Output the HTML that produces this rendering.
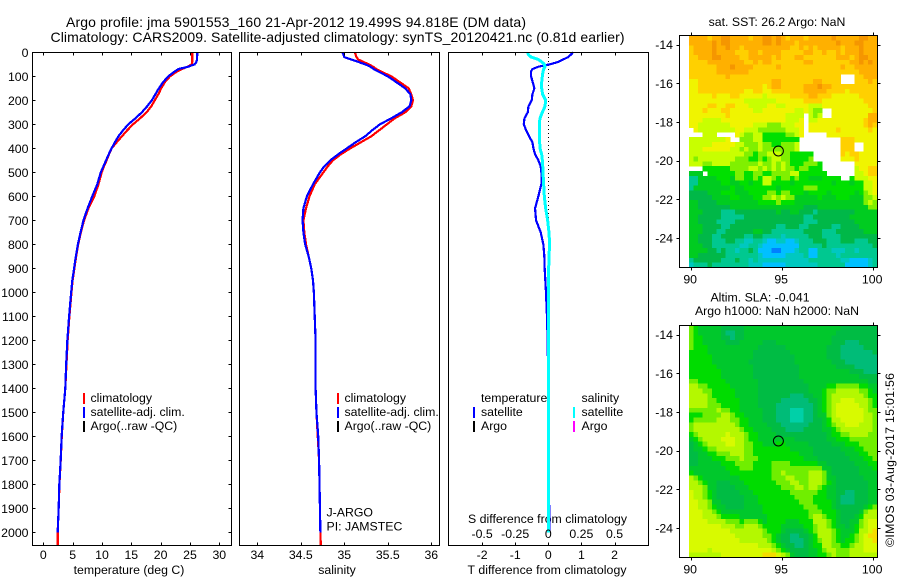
<!DOCTYPE html>
<html>
<head>
<meta charset="utf-8">
<title>Argo profile</title>
<style>
html,body{margin:0;padding:0;background:#fff;}
svg{display:block;}
text{font-family:"Liberation Sans",sans-serif;font-size:12.3px;fill:#000;}
</style>
</head>
<body>
<svg id="chart" width="900" height="580" viewBox="0 0 900 580" xmlns="http://www.w3.org/2000/svg">
  <rect x="0" y="0" width="900" height="580" fill="#fff"/>
  <text x="66" y="27" style="font-size:14px" textLength="460">Argo profile: jma 5901553_160 21-Apr-2012 19.499S 94.818E (DM data)</text>
  <text x="50.5" y="42" style="font-size:14px" textLength="574">Climatology: CARS2009. Satellite-adjusted climatology: synTS_20120421.nc (0.81d earlier)</text>
  <text x="129" y="574" text-anchor="middle">temperature (deg C)</text>
  <text x="337" y="574" text-anchor="middle">salinity</text>
  <text x="547" y="574" text-anchor="middle" textLength="159">T difference from climatology</text>
  <text x="547.5" y="523" text-anchor="middle" textLength="159">S difference from climatology</text>

  <g>
    <rect x="83" y="393" width="2" height="11" fill="#f00"/>
    <text x="90.5" y="402">climatology</text>
    <rect x="83" y="407" width="2" height="11" fill="#00f"/>
    <text x="90.5" y="416">satellite-adj. clim.</text>
    <rect x="83" y="421" width="2" height="11" fill="#000"/>
    <text x="90.5" y="430">Argo(..raw -QC)</text>
  </g>
  <g>
    <rect x="337" y="393" width="2" height="11" fill="#f00"/>
    <text x="344.5" y="402">climatology</text>
    <rect x="337" y="407" width="2" height="11" fill="#00f"/>
    <text x="344.5" y="416">satellite-adj. clim.</text>
    <rect x="337" y="421" width="2" height="11" fill="#000"/>
    <text x="344.5" y="430">Argo(..raw -QC)</text>
  </g>
  <text x="326.5" y="516.5">J-ARGO</text>
  <text x="326.5" y="530.5">PI: JAMSTEC</text>
  <g>
    <text x="481" y="402">temperature</text>
    <rect x="473" y="407" width="2" height="11" fill="#00f"/>
    <text x="481" y="416">satellite</text>
    <rect x="473" y="421" width="2" height="11" fill="#000"/>
    <text x="481" y="430">Argo</text>
    <text x="581.5" y="402">salinity</text>
    <rect x="573" y="407" width="2" height="11" fill="#0ff"/>
    <text x="581.5" y="416">satellite</text>
    <rect x="573" y="421" width="2" height="11" fill="#f0f"/>
    <text x="581.5" y="430">Argo</text>
  </g>
  <text x="777" y="26" text-anchor="middle">sat. SST: 26.2 Argo: NaN</text>
  <text x="760" y="301.5" text-anchor="middle">Altim. SLA: -0.041</text>
  <text x="777" y="315" text-anchor="middle">Argo h1000: NaN h2000: NaN</text>
  <text transform="translate(894,547) rotate(-90)" textLength="174">©IMOS 03-Aug-2017 15:01:56</text>
</svg>
<script>
const _ = null;
const depths = [0,10,20,30,40,50,60,70,80,100,125,150,175,200,225,250,275,300,325,350,375,400,425,450,475,500,550,600,650,700,750,800,850,900,950,1000,1100,1200,1300,1400,1500,1600,1700,1800,1900,2000,2054];
const tempClim = [25.4,25.4,25.4,25.4,25.4,25.3,24.6,23.6,22.8,21.6,20.7,20.1,19.6,19.0,18.4,17.6,16.5,15.3,14.3,13.4,12.5,11.65,11.2,10.8,10.35,9.95,9.4,8.7,7.7,6.95,6.4,5.95,5.6,5.3,5.0,4.8,4.45,4.15,3.95,3.75,3.4,3.15,2.97,2.75,2.62,2.45,2.45];
const tempSat = [26.25,26.25,26.2,26.2,26.1,25.8,24.7,23.0,22.4,21.3,20.4,19.7,19.1,18.5,17.7,16.8,15.7,14.5,13.6,12.8,12.2,11.65,11.15,10.7,10.25,9.8,9.2,8.35,7.55,6.85,6.35,5.9,5.55,5.25,4.95,4.75,4.4,4.1,3.9,3.75,3.4,3.13,2.96,2.73,2.62,2.45,_];
const salClim = [35.12,35.13,35.14,35.16,35.22,35.28,35.33,35.37,35.42,35.54,35.64,35.74,35.77,35.79,35.77,35.70,35.58,35.49,35.40,35.31,35.19,35.07,34.96,34.87,34.81,34.76,34.66,34.6,34.56,34.53,34.54,34.56,34.59,34.62,34.64,34.65,34.66,34.67,34.67,34.67,34.68,34.695,34.71,34.715,34.72,34.725,34.73];
const salSat = [34.98,34.99,35.0,35.08,35.16,35.24,35.3,35.34,35.39,35.5,35.6,35.7,35.76,35.77,35.75,35.66,35.54,35.41,35.32,35.24,35.13,35.03,34.93,34.84,34.77,34.72,34.64,34.57,34.53,34.52,34.53,34.55,34.59,34.62,34.64,34.65,34.66,34.67,34.67,34.67,34.68,34.70,34.71,34.715,34.72,34.725,_];
const tempDiff = [0.75,0.68,0.6,0.45,0.3,0.05,-0.3,-0.48,-0.52,-0.52,-0.47,-0.42,-0.48,-0.5,-0.6,-0.62,-0.72,-0.74,-0.67,-0.58,-0.48,-0.45,-0.4,-0.3,-0.23,-0.21,-0.21,-0.3,-0.4,-0.37,-0.23,-0.15,-0.12,-0.11,-0.09,-0.07,-0.04,-0.02,-0.01,0,0,0,0,0,0.03,0.03,_];
const salDiff = [-0.156,-0.15,-0.13,-0.075,-0.05,-0.03,-0.025,-0.035,-0.04,-0.045,-0.05,-0.05,-0.043,-0.02,-0.025,-0.045,-0.063,-0.068,-0.068,-0.068,-0.065,-0.063,-0.05,-0.045,-0.042,-0.04,-0.035,-0.03,-0.02,-0.005,0.005,0.01,0.005,0.003,0.002,0,0,0,0,0,0,0,0,0,0,0,_];
const depthTicks = [0,100,200,300,400,500,600,700,800,900,1000,1100,1200,1300,1400,1500,1600,1700,1800,1900,2000];
const tempTicks = [0,5,10,15,20,25,30];
const salTicks = [34,34.5,35,35.5,36];
const salTickLabels = ['34','34.5','35','35.5','36'];
const tDiffTicks = [-2,-1,0,1,2];
const sDiffTickLabels = ['-0.5','-0.25','0','0.25','0.5'];
const lonTicks = [90,95,100];
const latTicks = [-14,-16,-18,-20,-22,-24];
const profileLon = [94.818];
const profileLat = [-19.499];
const sstCells = [
[11,11,11,11,10,11,11,12,12,11,11,11,11,10,11,11,12,12,11,12,11,10,11,11,11,10,11,11,11,11,11,12,11,11,11,11,11,12,12,11,11],
[11,11,11,11,11,12,11,12,12,11,11,11,11,11,11,11,12,12,11,12,11,11,11,10,11,11,11,11,11,11,11,11,12,11,11,11,12,12,11,11,11],
[10,11,11,11,11,12,11,11,12,11,11,10,11,11,11,11,11,11,11,11,11,11,10,10,11,10,11,10,11,11,11,11,11,10,11,11,11,12,11,11,11],
[10,11,11,11,11,12,11,11,11,11,10,10,10,11,11,10,11,11,11,11,10,10,10,10,10,11,11,10,10,11,10,10,11,10,11,11,11,12,11,11,11],
[10,10,11,11,11,12,12,11,11,11,11,10,10,11,11,11,11,11,10,11,10,10,10,11,11,10,10,10,10,10,10,10,11,11,11,10,11,12,12,11,11],
[10,10,10,10,11,11,11,11,11,11,11,11,10,10,11,10,11,11,10,10,10,10,10,10,10,11,11,10,10,10,10,10,10,10,10,11,11,12,11,12,11],
[10,10,10,10,10,10,11,11,11,12,11,11,11,11,10,10,10,10,10,11,10,10,10,10,10,10,10,10,10,10,10,10,10,11,10,10,11,11,11,11,11],
[10,10,10,10,10,10,11,11,11,11,11,11,11,10,10,10,10,10,10,10,10,10,10,10,10,10,10,10,10,10,10,10,10,10,10,10,10,11,11,11,11],
[10,10,10,10,10,10,10,10,11,10,10,10,10,10,10,10,10,10,10,10,10,10,10,10,10,10,10,10,10,10,10,10,10,_,_,_,10,10,11,11,11],
[9,9,10,10,10,10,10,10,10,10,10,10,10,10,10,10,10,10,11,11,10,10,10,10,10,10,10,11,11,10,10,10,10,_,_,_,10,10,10,11,10],
[9,9,10,10,10,10,10,10,10,10,10,10,10,10,10,10,9,10,11,11,10,10,10,10,10,11,11,11,12,11,11,10,10,10,10,10,10,10,10,10,10],
[9,9,10,10,10,10,10,10,10,10,10,10,9,9,10,10,9,9,10,10,10,10,10,10,10,11,11,11,11,11,10,10,10,10,9,10,10,10,10,10,10],
[9,9,9,9,9,10,9,9,9,10,10,9,9,9,9,9,8,9,9,9,9,9,10,10,10,10,11,11,10,10,10,9,9,9,9,9,9,10,10,10,10],
[9,9,9,9,9,9,9,9,9,9,9,9,8,8,8,8,8,8,8,9,9,9,9,9,9,10,10,10,10,9,9,9,9,9,9,9,9,9,10,10,10],
[9,9,9,9,10,10,9,9,10,10,9,9,9,8,8,8,8,9,9,8,8,9,9,9,9,9,8,8,8,9,9,9,9,9,9,9,9,9,9,10,10],
[9,9,9,10,9,9,9,10,10,9,9,9,9,9,8,8,9,9,9,9,9,9,9,8,8,9,8,7,7,_,_,9,9,9,9,9,9,9,9,9,10],
[9,9,9,9,9,9,9,9,10,9,9,9,9,9,9,9,9,9,9,9,9,8,8,8,8,_,8,7,8,_,_,9,9,9,9,9,9,9,9,11,11],
[9,9,9,8,8,8,8,9,9,9,9,9,9,9,9,9,9,9,9,9,9,8,8,8,9,_,8,8,9,9,9,9,9,9,9,9,9,9,10,11,11],
[9,9,8,8,8,8,8,8,8,9,9,9,9,9,8,8,8,7,7,7,8,8,8,9,9,_,9,9,9,9,9,9,9,9,9,9,9,9,10,11,10],
[_,9,8,8,8,8,8,8,8,8,9,9,8,8,8,7,7,7,7,7,7,8,8,8,9,_,9,9,9,9,9,9,10,9,9,9,9,9,9,10,9],
[_,_,_,8,8,8,_,_,_,_,9,8,7,7,8,8,6,6,6,6,6,7,7,8,9,_,_,_,_,_,9,9,9,9,9,9,9,9,9,9,9],
[8,8,8,8,8,8,8,8,9,_,_,7,7,7,8,8,6,6,6,6,6,6,6,6,_,_,_,_,_,_,_,_,_,10,10,10,9,9,9,9,9],
[8,8,8,8,8,9,9,9,9,9,8,8,7,7,7,8,7,7,6,6,7,7,7,8,_,_,_,_,_,_,_,_,_,10,10,10,_,_,9,9,9],
[8,8,8,9,9,9,9,9,9,8,8,7,8,7,7,8,7,7,7,7,7,7,7,8,_,_,_,_,_,_,_,_,_,10,10,10,_,_,9,9,9],
[8,8,8,8,8,8,8,8,8,8,8,8,7,7,6,7,7,8,8,8,7,7,6,6,6,6,6,_,_,_,_,_,_,10,9,10,10,9,9,9,9],
[8,7,8,8,8,8,8,8,8,8,7,7,7,6,6,7,6,7,8,8,7,7,6,6,6,6,7,_,_,_,_,_,_,9,9,9,10,9,9,9,9],
[8,8,8,7,7,8,8,8,8,7,7,7,7,7,7,8,7,7,8,7,8,7,6,6,6,7,7,7,6,_,_,_,_,_,_,_,9,9,9,9,9],
[_,_,_,6,6,6,6,6,6,7,7,7,7,8,8,7,8,7,8,7,8,7,7,6,7,7,6,6,6,_,_,_,_,_,_,_,8,9,9,10,10],
[5,5,5,_,6,6,6,6,6,6,7,7,6,6,7,7,6,6,7,7,7,7,8,8,6,6,6,6,6,6,_,_,_,_,_,_,8,8,9,10,10],
[3,3,5,5,5,5,6,6,6,5,7,7,6,6,7,6,8,8,7,6,7,7,6,7,6,6,5,5,5,6,6,6,6,_,_,6,8,8,8,9,9],
[3,3,5,5,5,5,5,6,6,5,5,6,6,5,6,6,8,8,6,6,6,6,5,6,6,6,6,6,6,6,6,5,6,6,6,5,6,6,8,8,9],
[3,5,5,5,5,5,5,5,5,6,5,5,6,6,6,6,6,6,6,5,6,6,6,6,6,7,7,7,6,6,6,6,6,6,6,6,6,6,8,8,9],
[4,4,4,4,5,5,5,6,6,6,5,5,5,6,6,6,6,7,7,6,7,7,6,6,6,5,6,6,6,6,5,6,6,6,6,6,5,6,7,8,9],
[4,4,4,4,4,5,5,5,5,6,6,5,5,5,6,6,7,7,8,7,8,7,7,5,5,5,5,5,6,5,5,5,6,6,6,5,5,5,7,7,8],
[5,5,4,4,4,4,5,5,5,5,5,5,5,5,5,6,6,6,6,7,6,6,6,5,5,5,5,5,5,5,5,5,5,5,5,5,5,5,7,8,7],
[5,5,4,4,4,4,4,4,4,5,5,5,5,5,5,5,5,5,5,5,5,5,5,5,5,4,4,4,5,5,5,5,5,5,5,5,5,5,5,7,7],
[5,5,5,4,4,4,4,3,3,3,4,4,4,4,4,4,4,4,4,5,4,4,5,5,4,4,4,3,4,4,4,4,4,4,4,4,5,5,5,5,5],
[5,5,4,4,4,4,4,3,3,3,3,3,4,4,4,4,4,4,4,4,4,4,4,4,4,3,3,4,4,4,4,4,4,4,4,5,5,5,5,5,5],
[5,5,4,4,4,4,3,3,3,3,4,4,4,4,4,4,4,4,4,4,4,4,4,4,4,3,3,3,4,4,4,4,4,4,4,4,5,5,5,5,5],
[5,5,5,4,4,4,4,3,3,4,4,4,4,4,4,4,4,4,4,3,3,4,4,4,3,3,4,4,4,4,4,3,3,4,4,4,4,5,5,5,5],
[5,5,5,4,4,4,3,3,4,4,4,4,4,4,5,5,4,4,3,3,3,3,3,3,3,4,4,4,4,3,3,3,4,4,4,4,4,4,5,5,5],
[5,5,4,4,4,3,3,4,4,4,4,4,3,3,4,4,3,3,3,3,2,3,3,3,3,3,4,4,4,3,3,3,3,4,4,4,4,4,4,4,4],
[5,5,4,4,4,3,3,3,4,4,3,3,2,2,3,3,2,1,1,2,2,1,1,2,3,3,3,4,4,4,3,3,3,4,4,4,3,3,3,4,4],
[5,5,5,4,4,3,3,3,3,3,3,2,2,3,3,2,1,1,1,1,1,1,1,1,3,3,3,3,3,4,3,3,3,3,3,3,3,3,3,3,4],
[5,5,5,5,4,4,3,4,3,3,2,3,3,4,3,1,1,1,0,0,1,1,1,2,3,3,1,1,3,3,3,2,2,2,3,3,2,3,3,3,3],
[5,5,4,4,4,4,4,4,3,3,3,3,3,3,3,2,1,1,1,1,1,2,2,2,2,3,1,1,3,3,3,3,2,3,3,3,3,3,3,3,3],
[3,4,4,4,4,4,4,3,3,3,4,3,3,2,3,2,2,2,2,2,2,2,2,2,2,2,3,3,3,3,3,3,3,2,2,1,1,1,1,2,3],
[2,3,3,3,4,3,3,3,3,3,3,3,3,2,2,2,1,1,1,1,1,2,2,2,2,2,2,2,3,3,3,3,3,3,1,1,1,1,1,2,3]
];
const slaCells = [
[7,6,5,5,5,5,5,4,4,4,4,4,5,5,5,5,5,5,5,5,5,5,5,5,5,5,5,5,5,5,5,5,5,4,4,4,4,4,4,4,4],
[7,6,5,5,5,5,5,4,3,3,4,4,5,5,5,5,5,5,5,5,5,5,5,5,5,5,5,5,5,5,5,5,4,4,4,4,4,4,4,4,4],
[7,6,6,5,5,5,5,4,4,3,4,4,5,5,5,5,5,5,5,5,5,5,5,5,5,5,5,5,5,5,5,4,4,4,4,4,4,4,4,4,4],
[7,6,6,5,5,5,5,5,4,4,4,5,5,5,5,5,4,4,4,5,5,5,5,5,5,5,5,5,5,5,5,4,4,4,3,3,3,4,4,4,4],
[7,6,6,6,5,5,5,5,5,5,5,5,5,5,5,4,4,4,4,4,4,5,5,5,5,5,5,5,5,5,4,4,4,3,3,3,3,3,4,4,4],
[6,6,6,6,5,5,5,5,5,5,5,5,5,5,4,4,4,4,4,4,4,4,5,5,5,5,5,5,5,5,4,4,4,3,3,3,3,3,3,3,4],
[6,6,6,6,6,5,5,5,5,5,5,5,5,5,4,4,4,4,4,4,4,4,4,5,5,5,5,5,5,5,4,4,4,3,3,3,3,3,3,3,3],
[6,6,6,6,6,5,5,5,5,5,5,5,5,4,4,4,4,4,4,4,4,4,4,5,5,5,5,5,5,5,5,4,4,4,3,3,3,3,3,3,3],
[6,6,6,6,6,6,5,5,5,5,5,5,5,5,4,4,4,4,4,4,4,4,4,4,5,5,5,5,5,5,5,5,4,4,4,4,3,3,3,3,3],
[6,6,6,6,6,6,6,5,5,5,5,5,5,5,4,4,4,4,4,4,4,4,4,4,5,5,5,5,5,5,5,5,5,5,5,4,4,4,3,3,3],
[6,6,6,6,6,6,6,5,5,5,5,5,5,5,4,4,4,4,4,4,4,4,4,4,5,5,5,5,5,5,5,5,5,5,5,5,5,4,4,4,4],
[7,7,6,6,6,6,6,6,5,5,5,5,5,5,5,4,4,4,4,4,4,4,4,4,4,5,5,5,5,5,5,5,5,5,5,5,5,5,5,4,4],
[8,8,7,7,6,6,6,6,6,5,5,5,5,5,5,4,4,4,4,4,4,4,4,4,4,4,5,5,5,5,6,6,7,7,7,7,7,6,6,5,5],
[8,8,8,7,7,6,6,6,6,6,5,5,5,5,5,4,4,4,4,4,4,4,4,4,4,4,5,5,5,6,7,7,8,8,8,8,8,7,7,6,5],
[8,8,8,8,7,6,6,6,6,6,5,5,5,5,5,4,4,4,4,4,4,4,3,3,3,4,4,5,5,6,7,8,8,8,8,8,8,8,7,6,6],
[8,8,8,8,7,7,6,6,6,6,6,5,5,5,5,4,4,4,4,4,3,3,3,3,3,3,4,4,5,6,7,8,8,9,9,9,8,8,8,7,6],
[8,8,8,8,7,7,7,6,6,6,6,5,5,5,5,4,4,4,4,3,3,3,3,3,3,3,3,4,5,6,7,8,9,9,9,9,9,8,8,7,6],
[7,7,7,7,7,7,8,7,7,6,6,5,5,5,5,5,4,4,4,3,3,3,2,2,2,3,3,4,5,6,7,8,9,9,9,9,9,9,8,7,7],
[6,6,6,7,7,7,7,8,8,7,6,6,5,5,5,5,4,4,4,3,3,3,2,2,2,3,3,4,5,5,7,8,9,9,9,9,9,9,8,8,7],
[6,7,7,7,7,7,8,8,8,7,7,6,6,5,5,5,4,4,4,3,3,3,2,2,2,3,3,4,4,5,6,8,8,9,9,9,9,9,8,8,7],
[7,8,8,8,8,8,8,8,8,8,7,6,6,5,5,5,5,4,4,4,3,3,3,3,3,3,4,4,4,5,6,7,8,8,9,9,9,8,8,8,7],
[7,8,8,8,8,8,8,8,8,8,8,7,6,6,5,5,5,5,4,4,4,3,3,3,3,4,4,4,4,5,5,6,7,8,8,8,8,8,8,8,7],
[6,7,8,8,8,8,8,8,9,8,8,8,7,6,6,5,5,5,5,4,4,4,4,4,4,4,4,4,4,4,5,6,6,7,7,8,8,8,8,7,7],
[5,6,7,8,8,8,8,9,9,9,8,8,7,6,6,5,5,5,5,5,5,5,5,4,4,4,4,4,4,4,5,5,6,6,6,7,7,7,7,7,7],
[4,5,6,7,8,8,8,8,9,9,8,8,7,7,6,6,5,5,5,6,6,5,5,5,5,5,4,4,4,4,4,5,5,5,6,6,6,7,7,7,7],
[4,5,5,6,7,7,8,8,8,8,8,8,7,7,6,6,6,6,6,6,6,6,5,5,5,5,5,4,4,4,4,4,4,5,5,5,6,6,7,7,7],
[4,4,5,5,6,6,7,7,7,8,8,8,7,7,6,6,6,6,6,6,6,6,6,6,5,5,5,4,4,4,4,4,4,4,5,5,5,6,6,7,7],
[4,4,5,5,5,6,6,6,7,7,7,8,7,7,7,6,6,6,6,6,6,6,6,6,6,5,5,5,4,4,4,4,4,4,4,5,5,5,6,6,7],
[4,4,5,5,5,5,5,6,6,6,7,7,7,7,6,6,6,6,7,7,7,7,6,6,6,6,6,6,5,5,4,4,4,4,4,4,5,5,5,6,6],
[5,5,5,5,5,5,5,5,6,6,6,7,7,7,6,6,6,6,7,7,7,7,7,7,7,7,7,7,7,5,5,4,4,4,4,4,4,5,5,5,6],
[6,5,5,5,5,5,5,5,5,6,6,6,6,6,6,6,6,6,7,7,8,7,7,7,7,7,8,8,8,7,5,4,4,4,4,4,4,5,5,5,5],
[8,7,6,5,5,5,5,5,5,5,5,6,6,6,6,6,6,6,7,7,7,8,8,7,7,7,8,8,8,7,5,5,4,4,4,4,4,4,5,5,5],
[8,8,7,6,5,5,4,4,4,5,5,5,6,6,6,6,6,6,6,7,7,7,8,8,7,7,8,8,8,7,6,5,4,4,4,4,4,4,4,5,5],
[8,8,8,7,5,5,4,4,4,4,5,5,5,6,6,6,6,6,6,6,7,7,7,8,8,7,8,8,7,6,5,5,4,4,4,4,4,4,4,5,5],
[9,8,8,7,6,5,4,4,4,4,4,5,5,5,6,6,6,6,6,6,6,6,7,7,7,7,7,7,6,6,5,5,4,4,3,3,4,4,4,5,5],
[9,8,8,7,6,5,4,4,4,4,4,4,5,5,5,6,6,6,6,6,6,6,6,7,7,7,7,6,6,6,5,5,4,3,3,3,4,4,4,5,5],
[9,9,8,8,7,5,5,4,4,4,4,4,5,5,5,6,6,6,6,6,6,6,6,6,7,7,7,6,6,6,6,5,4,3,3,3,4,4,4,5,5],
[9,9,8,8,7,6,5,5,4,4,4,4,5,5,5,5,6,6,6,6,6,6,6,6,6,7,7,7,6,6,6,5,4,4,4,4,4,4,5,6,7],
[9,9,9,8,8,7,6,5,5,5,5,5,5,5,5,5,6,6,6,6,6,6,6,6,6,6,7,7,7,6,6,6,5,4,4,4,4,5,7,8,8],
[9,9,9,8,8,8,7,6,6,6,6,5,5,5,5,5,5,6,6,6,6,6,6,6,6,6,7,8,8,7,6,6,5,4,4,4,5,6,8,8,8],
[9,9,9,9,8,8,8,8,7,7,7,6,7,7,7,6,5,6,6,6,6,5,5,5,6,6,6,8,8,8,7,6,5,4,4,5,5,7,8,9,9],
[9,9,9,9,9,9,9,8,8,8,7,7,8,8,8,7,6,6,6,6,5,5,5,5,5,6,6,7,8,8,7,6,5,5,4,5,6,7,8,9,9],
[9,9,9,9,9,9,9,9,9,8,8,8,8,8,8,8,7,6,6,6,5,4,4,4,4,5,6,7,8,8,8,7,6,5,5,5,6,8,8,9,10],
[9,9,9,9,9,9,9,9,9,9,8,8,8,8,8,8,7,7,6,5,4,4,3,3,4,4,5,6,8,8,8,7,6,5,5,6,7,8,9,10,10],
[9,9,9,9,9,9,9,9,9,9,9,8,8,8,8,8,8,7,6,5,4,4,3,3,3,4,5,6,7,8,8,7,6,5,6,6,7,8,9,9,10],
[9,9,9,9,9,9,9,9,9,9,9,9,9,9,9,8,8,8,7,6,5,4,4,3,3,4,5,6,6,8,8,7,7,6,6,7,8,8,9,9,9],
[9,9,9,9,8,9,9,9,9,9,9,9,9,9,9,9,9,9,8,7,6,5,4,4,4,4,5,5,6,7,8,8,7,7,7,8,8,8,9,9,9],
[8,8,8,8,8,8,8,9,9,9,9,9,9,9,9,9,10,10,10,9,8,7,5,4,4,4,5,5,6,6,7,8,7,7,7,8,8,8,8,8,8]
];
const sstColors = ['#0080ff','#00c0ff','#00c8c0','#00c890','#00b848','#00cc20','#00e000','#80f000','#c8ff00','#f0f400','#ffd000','#ffb000','#f59600'];
const slaColors = ['#0080ff','#00c0ff','#00d0a8','#00bc78','#00bc44','#00c82c','#00dc00','#70ee00','#b4f800','#d8fa00','#f4dc00','#ffb000','#f59600'];

const svg = document.getElementById('chart');
const NS = 'http://www.w3.org/2000/svg';

function makeEl(parent, tag) {
  const el = document.createElementNS(NS, tag);
  parent.appendChild(el);
  return el;
}
function setAttrs(el, attrs) {
  for (const k in attrs) el.setAttribute(k, attrs[k]);
}
function addGroup(name) {
  const el = makeEl(svg, 'g');
  
  
  return el;
}
function addLabel(parent, x, y, str, anchor, name) {
  const el = makeEl(parent, 'text');
  
  
  setAttrs(el, {x: x, y: y, 'text-anchor': anchor});
  el.textContent = str;
  return el;
}
function addTick(parent, x1, y1, x2, y2, name) {
  const el = makeEl(parent, 'line');
  
  
  setAttrs(el, {x1: x1, y1: y1, x2: x2, y2: y2, stroke: '#000', 'stroke-width': 1, 'shape-rendering': 'crispEdges'});
}
function addFrame(parent, box, name) {
  const el = makeEl(parent, 'rect');
  
  
  setAttrs(el, {x: box.l, y: box.t, width: box.r - box.l, height: box.b - box.t, fill: 'none', stroke: '#000', 'stroke-width': 1, 'shape-rendering': 'crispEdges'});
}
function addProfile(parent, values, xFn, color, width, name) {
  const pts = [];
  values.forEach(function (v, i) {
    if (v !== null) pts.push(xFn(v).toFixed(2) + ',' + depthY(depths[i]).toFixed(2));
  });
  const el = makeEl(parent, 'polyline');
  
  
  setAttrs(el, {points: pts.join(' '), fill: 'none', stroke: color, 'stroke-width': width, 'shape-rendering': 'crispEdges'});
}

/* axis functions */
function depthY(d) { return 52.3 + d * 0.24; }
function tempX(t) { return 43.3 + t * 5.867; }
function salX(s) { return 257.3 + (s - 34) * 87; }
function tDiffX(t) { return 548.3 + t * 33.1; }
function sDiffX(s) { return 548.3 + s * 132.4; }
function lonX(lon) { return 690.7 + (lon - 90) * 18.2; }
function latY(lat, top) { return top + 9.7 + (-14 - lat) * 19.33; }

const box1 = {l: 32.5, r: 231.5, t: 52.5, b: 545.5};
const box2 = {l: 239.5, r: 439.5, t: 52.5, b: 545.5};
const box3 = {l: 448.5, r: 648.5, t: 52.5, b: 545.5};
const tickLen = 3;

/* temperature panel */
const p1 = addGroup('temperature-panel');
addProfile(p1, tempClim, tempX, '#f00', 2.2, 'temperature-climatology-line');
addProfile(p1, tempSat, tempX, '#00f', 2.2, 'temperature-satellite-line');
addFrame(p1, box1, 'temperature-plot-frame');
depthTicks.forEach(function (d) {
  const y = Math.round(depthY(d)) + 0.5;
  addTick(p1, box1.l, y, box1.l + tickLen, y, 'depth-tick-left');
  addTick(p1, box1.r, y, box1.r - tickLen, y, 'depth-tick-right');
  addLabel(p1, 28.5, depthY(d) + 4.5, String(d), 'end', 'depth-tick-label');
});
tempTicks.forEach(function (t) {
  const x = Math.round(tempX(t)) + 0.5;
  addTick(p1, x, box1.t, x, box1.t + tickLen, 'temperature-tick-top');
  addTick(p1, x, box1.b, x, box1.b - tickLen, 'temperature-tick-bottom');
  addLabel(p1, tempX(t), 559, String(t), 'middle', 'temperature-tick-label');
});

/* salinity panel */
const p2 = addGroup('salinity-panel');
addProfile(p2, salClim, salX, '#f00', 2.2, 'salinity-climatology-line');
addProfile(p2, salSat, salX, '#00f', 2.2, 'salinity-satellite-line');
addFrame(p2, box2, 'salinity-plot-frame');
salTicks.forEach(function (s, i) {
  const x = Math.round(salX(s)) + 0.5;
  addTick(p2, x, box2.t, x, box2.t + tickLen, 'salinity-tick-top');
  addTick(p2, x, box2.b, x, box2.b - tickLen, 'salinity-tick-bottom');
  addLabel(p2, salX(s), 559, salTickLabels[i], 'middle', 'salinity-tick-label');
});

/* difference panel */
const p3 = addGroup('difference-panel');
const zero = makeEl(p3, 'line');


setAttrs(zero, {x1: 548.5, y1: 53, x2: 548.5, y2: 532, stroke: '#000', 'stroke-width': 1, 'stroke-dasharray': '1 3', 'shape-rendering': 'crispEdges'});
addProfile(p3, tempDiff, tDiffX, '#00f', 2.2, 'temperature-difference-line');
addProfile(p3, salDiff, sDiffX, '#0ff', 3, 'salinity-difference-line');
addFrame(p3, box3, 'difference-plot-frame');
tDiffTicks.forEach(function (t, i) {
  const x = Math.round(tDiffX(t)) + 0.5;
  addTick(p3, x, box3.t, x, box3.t + tickLen, 'difference-tick-top');
  addTick(p3, x, box3.b, x, box3.b - tickLen, 'difference-tick-bottom');
  addLabel(p3, tDiffX(t), 559, String(t), 'middle', 't-difference-tick-label');
  addLabel(p3, tDiffX(t), 538, sDiffTickLabels[i], 'middle', 's-difference-tick-label');
});

/* map panels */
function drawMap(cells, palette, top, bottom, name) {
  const g = addGroup(name);
  const lonStart = 89.9, lonStep = 0.2524;
  const latStart = -13.53, latStep = 0.25;
  cells.forEach(function (row, r) {
    row.forEach(function (v, c) {
      if (v === null) return;
      const x0 = lonX(lonStart + c * lonStep), x1 = lonX(lonStart + (c + 1) * lonStep);
      const y0 = latY(latStart - r * latStep, top), y1 = latY(latStart - (r + 1) * latStep, top);
      const cell = makeEl(g, 'rect');
      
      
      setAttrs(cell, {x: x0.toFixed(2), y: y0.toFixed(2), width: (x1 - x0 + 0.4).toFixed(2), height: (y1 - y0 + 0.4).toFixed(2), fill: palette[Math.round(v)], 'shape-rendering': 'crispEdges'});
    });
  });
  const box = {l: 679.5, r: 877.5, t: top + 0.5, b: bottom + 0.5};
  addFrame(g, box, name + '-frame');
  lonTicks.forEach(function (lon) {
    const x = Math.round(lonX(lon)) + 0.5;
    addTick(g, x, box.t, x, box.t - tickLen, 'longitude-tick-top');
    addTick(g, x, box.b, x, box.b + tickLen, 'longitude-tick-bottom');
    addLabel(g, lonX(lon) - 0.5, bottom + 16.7, String(lon), 'middle', 'longitude-tick-label');
  });
  latTicks.forEach(function (lat) {
    const y = Math.round(latY(lat, top)) + 0.5;
    addTick(g, box.l, y, box.l - tickLen, y, 'latitude-tick-left');
    addTick(g, box.r, y, box.r + tickLen, y, 'latitude-tick-right');
    addLabel(g, 673, latY(lat, top) + 4.5, String(lat), 'end', 'latitude-tick-label');
  });
  const marker = makeEl(g, 'circle');
  
  
  setAttrs(marker, {cx: lonX(profileLon[0]).toFixed(2), cy: latY(profileLat[0], top).toFixed(2), r: 5, fill: 'none', stroke: '#000', 'stroke-width': 1});
}
drawMap(sstCells, sstColors, 35, 267, 'sst-map');
drawMap(slaCells, slaColors, 325, 557, 'sla-map');
</script>
</body>
</html>
